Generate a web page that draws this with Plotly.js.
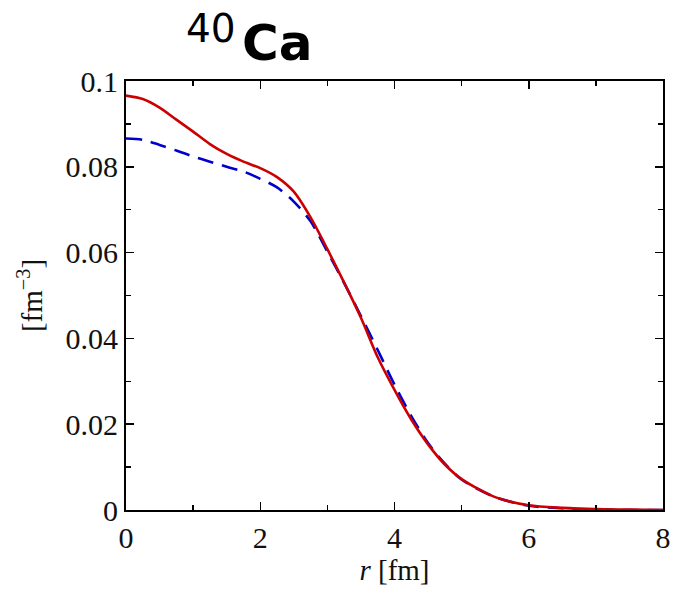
<!DOCTYPE html>
<html>
<head>
<meta charset="utf-8">
<script src="https://cdn.plot.ly/plotly-3.0.1.min.js"></script>
<style>html,body{margin:0;padding:0;background:#fff;}</style>
</head>
<body>
<div id="chart" style="width:673px;height:590px;"></div>
<script>
const r = [0, 0.25, 0.5, 0.75, 1.0, 1.25, 1.5, 1.75, 2.0, 2.25, 2.5, 2.75, 3.0, 3.25, 3.5, 3.75, 4.0, 4.25, 4.5, 4.75, 5.0, 5.5, 6.0, 6.5, 7.0, 7.5, 8.0];
const densitySolid = [0.0966, 0.0958, 0.0938, 0.0910, 0.0882, 0.0853, 0.0830, 0.0812, 0.0797, 0.0776, 0.0742, 0.0682, 0.0608, 0.0530, 0.0448, 0.0356, 0.0280, 0.0211, 0.0153, 0.0106, 0.0072, 0.0030, 0.0011, 0.0005, 0.0002, 0.0001, 0.0];
const densityDashed = [0.0866, 0.0863, 0.0851, 0.0838, 0.0824, 0.0812, 0.0800, 0.0789, 0.0772, 0.0752, 0.0719, 0.0673, 0.0602, 0.0529, 0.0452, 0.0373, 0.0292, 0.0219, 0.0156, 0.0108, 0.0071, 0.0030, 0.0010, 0.0004, 0.0001, 0.0, 0.0];
const xTicks = [0, 2, 4, 6, 8];
const yTicks = [0, 0.02, 0.04, 0.06, 0.08, 0.1];
const yTickText = ['0', '0.02', '0.04', '0.06', '0.08', '0.1'];

const serif = "'Liberation Serif', 'DejaVu Serif', serif";
const sans = "'DejaVu Sans', 'Noto Sans', sans-serif";

const traces = [
  {x: r, y: densityDashed, mode: 'lines', line: {color: '#0000cc', width: 2.6, dash: '16px,9px', shape: 'spline', smoothing: 0.8}, hoverinfo: 'skip'},
  {x: r, y: densitySolid, mode: 'lines', line: {color: '#cc0000', width: 2.6, shape: 'spline', smoothing: 0.8}, hoverinfo: 'skip'}
];

const axisCommon = {
  showline: true, linecolor: '#000', linewidth: 2, mirror: 'allticks',
  ticks: 'inside', ticklen: 8, tickwidth: 1.5, tickcolor: '#000',
  showgrid: false, zeroline: false,
  tickfont: {family: serif, size: 30, color: '#111'}
};

const layout = {
  width: 673, height: 590,
  margin: {l: 126, r: 10, t: 81, b: 80},
  paper_bgcolor: '#fff', plot_bgcolor: '#fff',
  showlegend: false,
  xaxis: Object.assign({}, axisCommon, {
    range: [0, 8], tickmode: 'array', tickvals: xTicks, ticktext: xTicks.map(String),
    minor: {tickmode: 'linear', tick0: 0, dtick: 1, ticks: 'inside', ticklen: 5, tickwidth: 1.5, tickcolor: '#000'},
    title: {text: '<i>r</i> [fm]', font: {family: serif, size: 29, color: '#111'}, standoff: 0}
  }),
  yaxis: Object.assign({}, axisCommon, {
    range: [0, 0.1], tickmode: 'array', tickvals: yTicks, ticktext: yTickText,
    minor: {tickmode: 'linear', tick0: 0, dtick: 0.01, ticks: 'inside', ticklen: 5, tickwidth: 1.5, tickcolor: '#000'},
    title: {text: '[fm<sup>−3</sup>]', font: {family: serif, size: 29, color: '#111'}, standoff: 14}
  }),
  annotations: [
    {xref: 'paper', yref: 'paper', x: 0.108, y: 1.0, yshift: 28, xanchor: 'left', yanchor: 'bottom', showarrow: false,
     text: '40', font: {family: sans, size: 39, color: '#000'}},
    {xref: 'paper', yref: 'paper', x: 0.213, y: 1.0, yshift: 7, xanchor: 'left', yanchor: 'bottom', showarrow: false,
     text: '<b>Ca</b>', font: {family: sans, size: 50, color: '#000'}}
  ]
};

Plotly.newPlot('chart', traces, layout, {staticPlot: true, displayModeBar: false});
</script>
</body>
</html>
